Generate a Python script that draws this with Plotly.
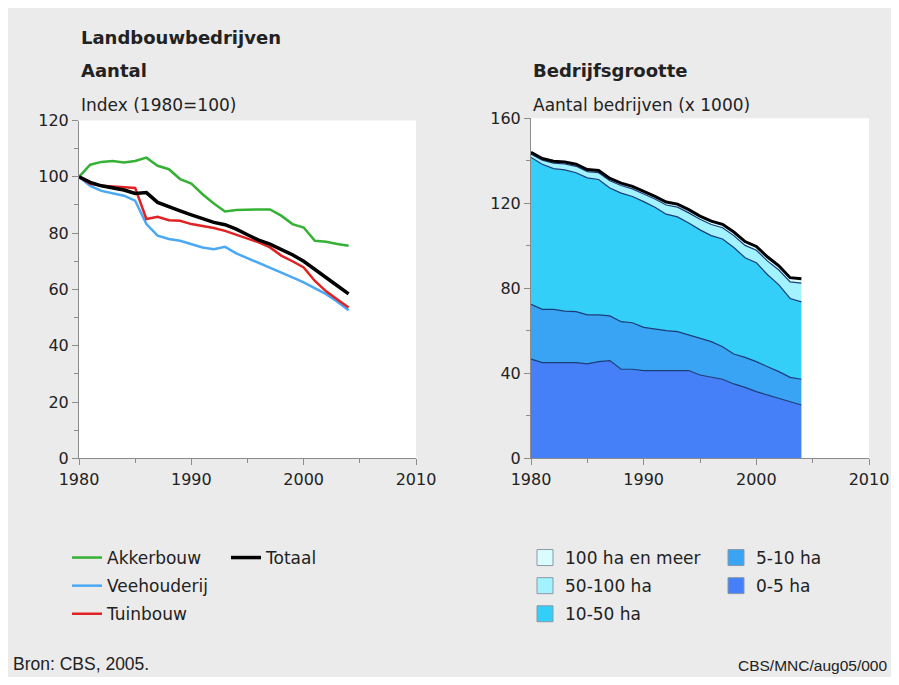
import plotly.graph_objects as go

# The page places the figure 8px from the top-left corner and shows at most
# 899-16 px of width; that 8px white strip plays the role of the reference's
# thin white border.
OFF = 8
W, H = 899 - 2 * OFF, 685 - 2 * OFF

years = list(range(1980, 2005))

# Left chart: index 1980=100
akkerbouw = [100.0, 104.3, 105.3, 105.6, 105.1, 105.6, 106.8, 103.9, 102.7, 99.2, 97.6, 93.8, 90.5, 87.7,
             88.2, 88.4, 88.4, 88.4, 86.2, 83.2, 82.0, 77.3, 76.9, 76.1, 75.5]
veehouderij = [100.0, 96.8, 95.0, 94.1, 93.3, 91.5, 83.2, 79.1, 77.9, 77.3, 76.1, 74.9, 74.3, 75.1,
               72.8, 71.1, 69.6, 67.8, 66.0, 64.3, 62.5, 60.4, 58.3, 55.6, 52.6]
tuinbouw = [100.0, 97.5, 96.8, 96.6, 96.4, 96.0, 85.0, 85.8, 84.6, 84.4, 83.2, 82.6, 81.8, 80.8,
            79.4, 77.9, 76.7, 74.9, 72.0, 70.0, 67.8, 63.0, 59.3, 56.4, 53.6]
totaal = [100.0, 98.0, 96.8, 96.0, 95.3, 94.1, 94.4, 90.9, 89.3, 87.9, 86.5, 85.3, 83.8, 83.0,
          81.4, 79.4, 77.5, 76.1, 74.3, 72.3, 70.0, 67.0, 64.3, 61.3, 58.4]

# Right chart: number of farms (x 1000) per size class
ha_0_5 = [46.7, 45.0, 45.0, 45.0, 45.0, 44.4, 45.5, 46.0, 41.9, 41.9, 41.3, 41.3, 41.3, 41.3,
          41.3, 39.2, 38.1, 37.2, 35.0, 33.4, 31.4, 29.8, 28.2, 26.7, 25.1]
ha_5_10 = [25.8, 25.1, 25.1, 24.3, 24.0, 23.1, 22.0, 21.0, 22.4, 21.9, 20.3, 19.4, 18.8, 18.3,
           16.7, 17.3, 16.8, 15.3, 14.1, 14.1, 14.1, 13.3, 12.6, 11.4, 12.1]
ha_10_50 = [69.1, 68.3, 66.2, 66.4, 65.4, 64.5, 63.7, 60.2, 60.5, 59.4, 59.2, 57.4, 54.8, 54.0,
            52.7, 51.0, 49.9, 50.7, 50.1, 46.9, 46.5, 43.3, 40.8, 37.1, 36.4]
ha_50_100 = [1.6, 1.9, 2.6, 2.8, 3.0, 2.9, 3.2, 3.4, 3.6, 3.6, 3.6, 3.9, 4.3, 4.6,
             4.8, 5.0, 5.2, 5.3, 5.6, 5.8, 5.9, 6.4, 7.0, 7.8, 8.8]
ha_100_plus = [0.8, 0.8, 0.9, 0.9, 1.0, 1.0, 1.0, 1.1, 1.1, 1.2, 1.2, 1.3, 1.4, 1.4,
               1.5, 1.5, 1.6, 1.6, 1.7, 1.8, 1.8, 1.9, 2.0, 2.0, 2.1]

left_series = [
    ("Akkerbouw", akkerbouw, "#35b135", 2.5, "legend"),
    ("Veehouderij", veehouderij, "#4aa8f5", 2.5, "legend"),
    ("Tuinbouw", tuinbouw, "#e02222", 2.5, "legend"),
    ("Totaal", totaal, "#000000", 3.5, "legend2"),
]

area_series = [  # bottom to top
    ("0-5 ha", ha_0_5, "#4680f8", "legend4"),
    ("5-10 ha", ha_5_10, "#3aa4f4", "legend4"),
    ("10-50 ha", ha_10_50, "#33cff9", "legend3"),
    ("50-100 ha", ha_50_100, "#a2f2ff", "legend3"),
    ("100 ha en meer", ha_100_plus, "#dafcff", "legend3"),
]
legend_order_right = ["100 ha en meer", "50-100 ha", "10-50 ha", "5-10 ha", "0-5 ha"]

FONT = "DejaVu Sans"
TXT = "#222222"

fig = go.Figure()

for name, vals, col, lw, lg in left_series:
    fig.add_trace(go.Scatter(x=years, y=vals, mode="lines", name=name,
                             line=dict(color=col, width=lw), legend=lg, legendgroup=name,
                             xaxis="x", yaxis="y"))

for i, (name, vals, col, lg) in enumerate(area_series):
    top = i == len(area_series) - 1
    fig.add_trace(go.Scatter(x=years, y=vals, mode="lines", name=name, stackgroup="one",
                             fillcolor=col,
                             line=dict(color="#000000" if top else "#1b3c78",
                                       width=3 if top else 1.2),
                             showlegend=False, xaxis="x2", yaxis="y2"))

col_of = {n: c for n, _, c, _ in area_series}
lg_of = {n: l for n, _, _, l in area_series}
for name in legend_order_right:
    fig.add_trace(go.Scatter(x=[None], y=[None], mode="markers", name=name,
                             marker=dict(symbol="square", size=16, color=col_of[name],
                                         line=dict(color="#8a9aa6", width=1)),
                             legend=lg_of[name], legendgroup="g_" + name,
                             xaxis="x2", yaxis="y2"))


def px(x):
    return (x - OFF) / W


def py(y):
    return 1 - (y - OFF) / H


axis_common = dict(showgrid=False, zeroline=False, showline=True, linecolor="#8c8c8c",
                   linewidth=1, ticks="outside", ticklen=6, tickcolor="#8c8c8c",
                   automargin=False,
                   tickfont=dict(family=FONT, size=16, color=TXT))

leg_common = dict(xanchor="left", yanchor="top", bgcolor="rgba(0,0,0,0)",
                  font=dict(family=FONT, size=17, color=TXT), tracegroupgap=3,
                  itemwidth=30, traceorder="grouped", orientation="v")

fig.update_layout(
    width=W, height=H, margin=dict(l=0, r=0, t=0, b=0, pad=0, autoexpand=False),
    paper_bgcolor="#ebebeb", plot_bgcolor="#ffffff",
    xaxis=dict(domain=[px(79), px(416)], range=[1980, 2010], dtick=10, anchor="y",
               minor=dict(dtick=5, ticklen=4, ticks="outside", tickcolor="#8c8c8c"),
               **axis_common),
    yaxis=dict(domain=[py(458.3), py(120.5)], range=[0, 120], dtick=20, anchor="x",
               minor=dict(dtick=10, ticklen=4, ticks="outside", tickcolor="#8c8c8c"),
               **axis_common),
    xaxis2=dict(domain=[px(531), px(869)], range=[1980, 2010], dtick=10, anchor="y2",
                minor=dict(dtick=5, ticklen=4, ticks="outside", tickcolor="#8c8c8c"),
                **axis_common),
    yaxis2=dict(domain=[py(458.3), py(118.3)], range=[0, 160], dtick=40, anchor="x2",
                minor=dict(dtick=20, ticklen=4, ticks="outside", tickcolor="#8c8c8c"),
                **axis_common),
    legend=dict(x=px(67), y=py(540), **leg_common),
    legend2=dict(x=px(226), y=py(540), **leg_common),
    legend3=dict(x=px(525), y=py(540), **leg_common),
    legend4=dict(x=px(716), y=py(540), **leg_common),
    showlegend=True,
)

annos = [
    ("<b>Landbouwbedrijven</b>", 79, 37, 18, "left", FONT),
    ("<b>Aantal</b>", 79, 70.5, 18, "left", FONT),
    ("Index (1980=100)", 79, 105.5, 17, "left", FONT),
    ("<b>Bedrijfsgrootte</b>", 531, 70.5, 18, "left", FONT),
    ("Aantal bedrijven (x 1000)", 531, 105.5, 17, "left", FONT),
    ("Bron: CBS, 2005.", 11, 664, 17.5, "left", "Liberation Sans"),
    ("CBS/MNC/aug05/000", 889, 665, 15.5, "right", "Liberation Sans"),
]
for text, x, y, size, anc, fam in annos:
    fig.add_annotation(text=text, x=px(x), y=py(y), xref="paper", yref="paper",
                       xanchor=anc, yanchor="middle", showarrow=False,
                       font=dict(family=fam, size=size, color=TXT))

fig.write_html("out.html")
